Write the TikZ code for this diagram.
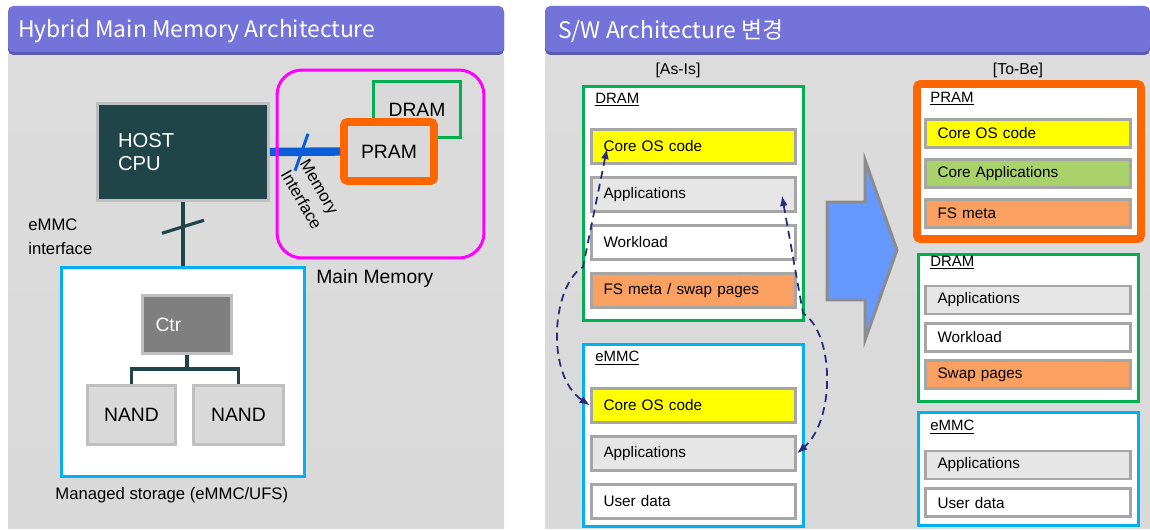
\documentclass[tikz,border=0pt]{standalone}
\usepackage{fontspec}
\setmainfont{Liberation Sans}
\newfontfamily\titlefont{Noto Sans CJK KR}
\usetikzlibrary{positioning,arrows.meta,calc}
\definecolor{titleviolet}{HTML}{7373D9}
\definecolor{titleshade}{HTML}{5A5AB0}
\definecolor{bodytop}{HTML}{DCDCDC}
\definecolor{bodymid}{HTML}{FCFCFC}
\definecolor{bodybottom}{HTML}{D9D9D9}
\definecolor{cputeal}{HTML}{1F4548}
\definecolor{busblue}{HTML}{0A5FD8}
\definecolor{mainmagenta}{HTML}{FF00FF}
\definecolor{dramgreen}{HTML}{00B050}
\definecolor{pramorange}{HTML}{FF6600}
\definecolor{emmccyan}{HTML}{00B0F0}
\definecolor{framegrey}{HTML}{BFBFBF}
\definecolor{slotgrey}{HTML}{A6A6A6}
\definecolor{chipgrey}{HTML}{D9D9D9}
\definecolor{ctrgrey}{HTML}{7F7F7F}
\definecolor{appgrey}{HTML}{E6E6E6}
\definecolor{osyellow}{HTML}{FFFF00}
\definecolor{fsorange}{HTML}{FAA061}
\definecolor{coregreen}{HTML}{A9D36A}
\definecolor{shiftblue}{HTML}{6699FF}
\definecolor{shiftedge}{HTML}{8C8C8C}
\definecolor{linknavy}{HTML}{2A2A7C}
\tikzset{
  panelbg/.style={top color=bodytop, middle color=bodymid, bottom color=bodybottom},
  titletext/.style={font=\titlefont\fontsize{13}{15}\selectfont, text=white,
                    anchor=west, inner sep=0pt},
  chip/.style={draw=framegrey, line width=1.7pt, fill=chipgrey, inner sep=0pt,
               font=\fontsize{11}{13}\selectfont},
  cpubox/.style={chip, fill=cputeal, text=white, align=left, text width=2.6cm,
                 inner xsep=0.41cm, font=\fontsize{11.5}{13}\selectfont},
  region/.style={draw, line width=1.7pt, fill=white, inner sep=0pt},
  note/.style={font=\fontsize{9.5}{13.6}\selectfont, anchor=west, align=left,
               inner sep=0pt},
  tag/.style={font=\fontsize{8.5}{10}\selectfont, anchor=west, inner sep=0pt},
  colhead/.style={font=\fontsize{9}{10}\selectfont, inner sep=0pt},
  slot/.style={draw=slotgrey, line width=1.7pt, minimum width=4.08cm,
               minimum height=0.68cm, text width=3.6cm, inner xsep=0.24cm,
               inner ysep=0pt, align=left, font=\fontsize{8.7}{10}\selectfont},
  tbslot/.style={minimum width=4.1cm, minimum height=0.56cm, text width=3.62cm},
  bus/.style={draw=busblue, line width=4.8pt},
  busslash/.style={draw=busblue, line width=1.7pt},
  cpulink/.style={draw=cputeal, line width=1.8pt},
  ctrlink/.style={draw=cputeal, line width=1.8pt},
  pagelink/.style={{Latex[length=6pt,width=4.5pt]}-{Latex[length=6pt,width=4.5pt]},
                   draw=linknavy, line width=1pt, dash pattern=on 4.5pt off 3pt},
  shiftarrow/.style={fill=shiftblue, draw=shiftedge, line width=1.7pt},
}
\begin{document}
\begin{tikzpicture}[x=0.02cm, y=-0.02cm]
\useasboundingbox (0,0) rectangle (1150,530);

% ---------------------------------------------------------------- panels
\shade[panelbg] (8,54) rectangle (504,528);
\shade[panelbg] (545,54) rectangle (1150,528);
\fill[titleshade, rounded corners=3pt] (8,8) rectangle (504,55);
\fill[titleviolet, rounded corners=3pt] (8,6) rectangle (504,52);
\fill[titleshade, rounded corners=3pt] (545,8) rectangle (1150,55);
\fill[titleviolet, rounded corners=3pt] (545,6) rectangle (1150,52);
\node[titletext] (hwtitle) at (18,31) {Hybrid Main Memory Architecture};
\node[titletext] (swtitle) at (558,31) {S/W Architecture 변경};

% ---------------------------------------------------------------- hardware
\node[cpubox, minimum width=3.42cm, minimum height=1.96cm] (cpu) at (183,152)
  {HOST\\CPU};
\node[chip, draw=dramgreen, minimum width=1.74cm, minimum height=1.12cm] (dram)
  at (417,109.5) {DRAM};
\node[chip, draw=pramorange, line width=4.5pt, rounded corners=2pt,
      minimum width=1.8cm, minimum height=1.18cm] (pram) at (389,151.5) {PRAM};
\draw[bus] (cpu.east) -- (pram.west);
\coordinate (busmid) at ($(cpu.east)!0.5!(pram.west)$);
\draw[busslash] ($(busmid)+(3,-18)$) -- ($(busmid)+(-10,19)$);
\node[draw=mainmagenta, line width=1.7pt, rounded corners=0.5cm,
      minimum width=4.14cm, minimum height=3.76cm] (mainmem) at (380.5,164) {};
\node[note, anchor=center, rotate=-60, font=\fontsize{9.5}{12.5}\selectfont] (memif)
  at (311,194) {Memory\\Interface};

\node[region, draw=emmccyan, minimum width=4.86cm, minimum height=4.18cm] (storage)
  at (183,372) {};
\draw[cpulink] (cpu.south) -- (storage.north);
\coordinate (linkmid) at ($(cpu.south)!0.5!(storage.north)$);
\draw[cpulink] ($(linkmid)+(-21,-1)$) -- ($(linkmid)+(21,-14)$);

\node[chip, fill=ctrgrey, text=white, align=left, text width=1.26cm, inner xsep=0.26cm,
      minimum width=1.78cm, minimum height=1.16cm] (ctr) at (187,324.5) {Ctr};
\node[chip, minimum width=1.76cm, minimum height=1.18cm] (nandA) at (131.5,415) {NAND};
\node[chip, minimum width=1.8cm, minimum height=1.18cm] (nandB) at (238.5,415) {NAND};
\draw[ctrlink] (ctr.south) -- ++(0,14) -| (nandA.north);
\draw[ctrlink] (ctr.south) -- ++(0,14) -| (nandB.north);

\node[note] (emmcif) at (28,237) {eMMC\\interface};
\node[note, font=\fontsize{11}{13}\selectfont] (mmlabel) at (316,279) {Main Memory};
\node[note] (msslabel) at (55,495) {Managed storage (eMMC/UFS)};

% ---------------------------------------------------------------- as-is
\node[colhead] (asis) at (678,70) {[As-Is]};
\node[region, draw=dramgreen, minimum width=4.4cm, minimum height=4.68cm] (asdram)
  at (693.5,203.5) {};
\node[tag] (asdramtag) at (595,100) {\underline{DRAM}};
\node[slot, fill=osyellow] (dcore) at (693.5,146.5) {Core OS code};
\node[slot, fill=appgrey, below=0.22cm of dcore] (dapps) {Applications};
\node[slot, fill=white, below=0.22cm of dapps] (dwork) {Workload};
\node[slot, fill=fsorange, below=0.22cm of dwork] (dfs) {FS meta / swap pages};

\node[region, draw=emmccyan, minimum width=4.4cm, minimum height=3.64cm] (asemmc)
  at (693.5,435.5) {};
\node[tag] (asemmctag) at (595,358) {\underline{eMMC}};
\node[slot, fill=osyellow] (ecore) at (693.5,405.5) {Core OS code};
\node[slot, fill=appgrey, below=0.22cm of ecore] (eapps) {Applications};
\node[slot, fill=white, below=0.22cm of eapps] (euser) {User data};

\coordinate (osbend) at (583,267);
\coordinate (appbend) at (803,313);
\draw[pagelink] ($(dcore.west)+(17,2)$) -- (osbend)
  .. controls (552,285) and (545,375) .. (ecore.west);
\draw[pagelink] ($(dapps.east)+(-15,1)$) -- (appbend)
  .. controls (835,335) and (835,420) .. (eapps.east);

% ---------------------------------------------------------------- shift
\draw[shiftarrow] (827,202) -- (865,202) -- (865,160) -- (897,250) -- (865,340)
  -- (865,300) -- (827,300) -- cycle;

% ---------------------------------------------------------------- to-be
\node[colhead] (tobe) at (1018,70) {[To-Be]};
\node[region, draw=pramorange, line width=4.5pt, rounded corners=2pt,
      minimum width=4.48cm, minimum height=3.1cm] (tbpram) at (1029,161.5) {};
\node[tag] (tbpramtag) at (930,99) {\underline{PRAM}};
\node[slot, tbslot, fill=osyellow] (pcore) at (1028,133.5) {Core OS code};
\node[slot, tbslot, fill=coregreen, below=0.18cm of pcore] (pcapps) {Core Applications};
\node[slot, tbslot, fill=fsorange, below=0.18cm of pcapps] (pfs) {FS meta};

\node[region, draw=dramgreen, minimum width=4.4cm, minimum height=2.94cm] (tbdram)
  at (1028.5,328) {};
\node[tag] (tbdramtag) at (930,263) {\underline{DRAM}};
\node[slot, tbslot, fill=appgrey] (tapps) at (1028,300) {Applications};
\node[slot, tbslot, fill=white, below=0.13cm of tapps] (twork) {Workload};
\node[slot, tbslot, fill=fsorange, below=0.13cm of twork] (tswap) {Swap pages};

\node[region, draw=emmccyan, minimum width=4.4cm, minimum height=2.26cm] (tbemmc)
  at (1028.5,469) {};
\node[tag] (tbemmctag) at (930,427) {\underline{eMMC}};
\node[slot, tbslot, fill=appgrey] (tbapps) at (1028,465) {Applications};
\node[slot, tbslot, fill=white, below=0.14cm of tbapps] (tuser) {User data};

\end{tikzpicture}
\end{document}
